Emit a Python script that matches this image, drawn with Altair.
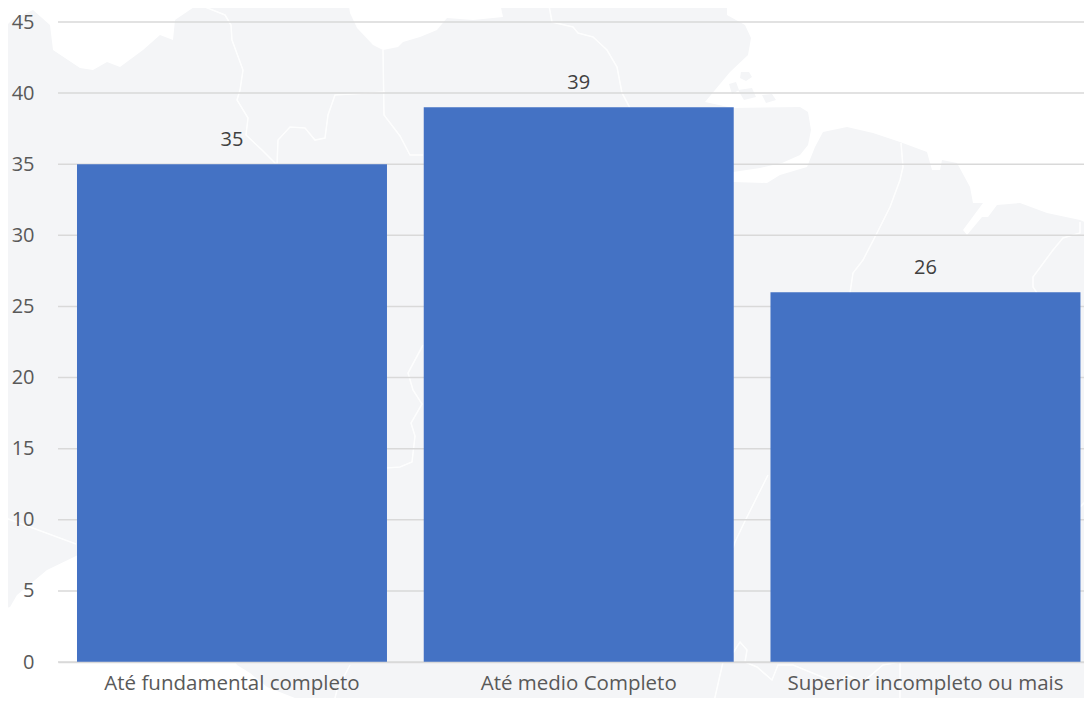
import altair as alt
import pandas as pd

categories = ["Até fundamental completo", "Até medio Completo", "Superior incompleto ou mais"]
values = [35, 39, 26]
y_ticks = [0, 5, 10, 15, 20, 25, 30, 35, 40, 45]

FONT = "Open Sans"
LAND = "#F4F5F7"

# Decorative background map, in picture coordinates
sea_a = [[0,0],[0,32],[12,20],[33,10],[50,25],[53,50],[65,58],[80,68],[93,70],[107,62],[120,67],[143,50],[160,35],[173,40],[175,20],[200,3],[200,0]]
sea_b = [[348,0],[350,13],[357,28],[373,45],[383,50],[398,47],[403,42],[420,37],[437,30],[447,18],[473,20],[503,17],[500,3],[497,0]]
sea_c = [[563,0],[580,4],[607,5],[633,5],[637,0]]
sea_d = [[727,0],[727,15],[745,25],[751,38],[748,55],[730,72],[715,90],[705,102],[733,108],[800,107],[808,112],[811,130],[808,145],[800,155],[782,163],[760,168],[733,172],[725,176],[733,182],[767,183],[780,175],[807,167],[815,147],[823,132],[847,127],[873,133],[900,142],[927,152],[932,170],[940,170],[942,160],[957,163],[970,187],[973,203],[983,203],[963,230],[967,235],[982,217],[988,217],[997,205],[1020,203],[1047,213],[1080,220],[1092,225],[1092,0]]
sea_e = [[0,609],[10,607],[17,595],[47,570],[76,556],[100,540],[200,600],[237,665],[250,673],[267,687],[300,700],[320,706],[0,706]]
islands = [
    [[741,72],[749,72],[752,77],[746,81],[740,78]],
    [[729,84],[736,82],[739,90],[732,94]],
    [[738,90],[752,88],[756,97],[744,100]],
    [[762,95],[772,94],[776,100],[766,103]],
]
rivers = [
    [[200,5],[225,15],[231,25],[232,40],[243,70],[240,90],[237,100],[248,118],[246,135],[262,150],[277,165]],
    [[277,165],[278,140],[290,127],[305,128],[315,140],[325,138],[328,115],[335,95],[385,92]],
    [[383,50],[384,115],[400,136],[410,155],[423,155]],
    [[423,345],[408,373],[413,390],[422,404],[411,423],[415,436],[412,462],[400,467],[386,468]],
    [[548,0],[552,22],[573,27],[578,33],[593,37],[607,50],[617,67],[622,93],[630,108]],
    [[768,475],[745,521],[735,542],[733,548]],
    [[733,653],[740,642],[747,650],[745,662],[757,667],[772,680],[778,665],[793,665],[810,672],[837,683],[847,675],[863,682],[883,665],[900,662],[900,706]],
    [[723,662],[713,706]],
    [[901,143],[903,167],[900,180],[890,207],[877,233],[863,260],[853,273],[850,293]],
    [[1080,222],[1080,233],[1063,238],[1053,250],[1033,277],[1033,287],[1037,293]],
    [[1080,507],[1092,495]],
    [[0,516],[76,544]],
    [[350,665],[337,690],[333,706]],
]

def polys(rings):
    return alt.InlineData(
        values={"type": "FeatureCollection", "features": [
            {"type": "Feature", "properties": {}, "geometry": {"type": "Polygon", "coordinates": [r + [r[0]]]}}
            for r in rings]},
        format=alt.DataFormat(type="json", property="features"))

def lines(paths):
    return alt.InlineData(
        values={"type": "FeatureCollection", "features": [
            {"type": "Feature", "properties": {}, "geometry": {"type": "LineString", "coordinates": p}}
            for p in paths]},
        format=alt.DataFormat(type="json", property="features"))

proj = alt.Projection(type="identity", scale=1, translate=[-58, -22])

sea_layer = alt.Chart(polys([sea_a, sea_b, sea_c, sea_d, sea_e])).mark_geoshape(
    fill="white", strokeWidth=0, clip=False).project(**proj.to_dict())
island_layer = alt.Chart(polys(islands)).mark_geoshape(
    fill=LAND, strokeWidth=0, clip=False).project(**proj.to_dict())
river_layer = alt.Chart(lines(rivers)).mark_geoshape(
    filled=False, stroke="white", strokeWidth=1.6, opacity=0.9, clip=False).project(**proj.to_dict())

df = pd.DataFrame({"cat": categories, "val": values})
x_enc = alt.X("cat:N", sort=categories, title=None,
              scale=alt.Scale(paddingInner=0.106, paddingOuter=0.0325, align=0.843),
              axis=alt.Axis(labelAngle=0, labelFont=FONT, labelFontSize=20.5, labelColor="#595959",
                            labelPadding=11, ticks=False, domain=True, domainColor="#D9D9D9",
                            domainWidth=1.5, grid=False, zindex=1, labelLimit=500))
y_enc = alt.Y("val:Q", title=None, scale=alt.Scale(domain=[0, 45], nice=False),
              axis=alt.Axis(values=y_ticks, labelFont=FONT, labelFontSize=20, labelColor="#595959",
                            labelPadding=24, ticks=False, domain=False, grid=False, zindex=1))

rules = alt.Chart(pd.DataFrame({"val": y_ticks})).mark_rule(color="#D9D9D9", strokeWidth=1.5).encode(
    y=alt.Y("val:Q", title=None, scale=alt.Scale(domain=[0, 45], nice=False)))
bars = alt.Chart(df).mark_bar(color="#4472C4").encode(x=x_enc, y=y_enc)
labels = alt.Chart(df).mark_text(font=FONT, fontSize=20, color="#404040", baseline="bottom", dy=-14).encode(
    x=alt.X("cat:N", sort=categories), y=alt.Y("val:Q"), text=alt.Text("val:Q"))

chart = alt.layer(sea_layer, island_layer, river_layer, rules, bars, labels).properties(
    width=1026, height=640, background=LAND,
    padding={"left": 50, "top": 14, "right": 0, "bottom": 36},
    autosize=alt.AutoSizeParams(type="none"),
).configure_view(stroke=None)

chart.save("out.html", embed_options={"renderer": "svg", "actions": False})
